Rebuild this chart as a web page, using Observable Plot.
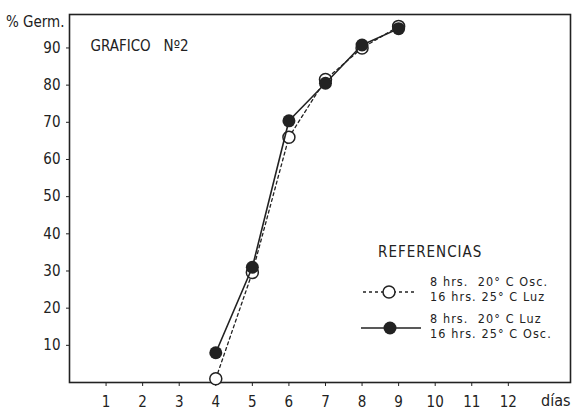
<!DOCTYPE html>
<html>
<head>
<meta charset="utf-8">
<script src="https://cdn.jsdelivr.net/npm/d3@7"></script>
<script src="https://cdn.jsdelivr.net/npm/@observablehq/plot@0.6"></script>
<style>
  html, body { margin: 0; padding: 0; background: #fff; }
  #wrap { position: relative; width: 572px; height: 410px; }
  #legend { position: absolute; left: 350px; top: 230px; pointer-events: none; }
</style>
</head>
<body>
<div id="wrap">
  <div id="chart"></div>
  <svg id="legend" width="222" height="130" font-family="DejaVu Sans Condensed" fill="#222">
    <text x="28" y="27" font-size="15" letter-spacing="1">REFERENCIAS</text>
    <line x1="13" x2="67" y1="62" y2="62" stroke="#222" stroke-width="1.3" stroke-dasharray="3,3"/>
    <circle cx="39" cy="62" r="6" fill="#fff" stroke="#222" stroke-width="1.5"/>
    <text x="80" y="56" font-size="12.5" letter-spacing="1.1" xml:space="preserve">8 hrs.  20° C Osc.</text>
    <text x="80" y="71" font-size="12.5" letter-spacing="1.1">16 hrs. 25° C Luz</text>
    <line x1="11" x2="71" y1="98" y2="98" stroke="#222" stroke-width="1.6"/>
    <circle cx="40" cy="98" r="6.5" fill="#222"/>
    <text x="80" y="93" font-size="12.5" letter-spacing="1.1" xml:space="preserve">8 hrs.  20° C Luz</text>
    <text x="80" y="108" font-size="12.5" letter-spacing="1.1">16 hrs. 25° C Osc.</text>
  </svg>
</div>
<script>
const days = [4, 5, 6, 7, 8, 9];
const oscValues = [1, 29.6, 66, 81.5, 90, 95.8];   // 8 hrs 20°C Osc. / 16 hrs 25°C Luz (open, dashed)
const luzValues = [8, 31, 70.4, 80.5, 90.8, 95.2]; // 8 hrs 20°C Luz / 16 hrs 25°C Osc. (filled, solid)
const xTicks = [1, 2, 3, 4, 5, 6, 7, 8, 9, 10, 11, 12];
const yTicks = [10, 20, 30, 40, 50, 60, 70, 80, 90];

const osc = days.map((d, i) => ({day: d, value: oscValues[i]}));
const luz = days.map((d, i) => ({day: d, value: luzValues[i]}));

const chart = Plot.plot({
  width: 572,
  height: 410,
  marginLeft: 69,
  marginRight: 2,
  marginTop: 14,
  marginBottom: 28,
  style: {fontFamily: "DejaVu Sans Condensed", fontSize: "15px", color: "#222", background: "#fff"},
  x: {domain: [0, 13.7]},
  y: {domain: [0, 99]},
  marks: [
    Plot.frame({stroke: "#222", strokeWidth: 1.6}),
    Plot.axisX({ticks: xTicks, tickSize: 4, tickPadding: 10, label: null, stroke: "#222"}),
    Plot.axisY({ticks: yTicks, tickSize: 3, tickPadding: 6, label: null, stroke: "#222"}),
    Plot.text(["% Germ."], {frameAnchor: "top-left", dx: -5, dy: 12, textAnchor: "end", lineAnchor: "bottom", fontSize: 15, fill: "#222"}),
    Plot.text(["días"], {frameAnchor: "bottom-right", dx: 0, dy: 23, textAnchor: "end", lineAnchor: "bottom", fontSize: 16, letterSpacing: 1.5, fill: "#222"}),
    Plot.text(["GRAFICO   Nº2"], {frameAnchor: "top-left", dx: 21, dy: 36, textAnchor: "start", lineAnchor: "bottom", fontSize: 15, fill: "#222"}),
    Plot.line(osc, {x: "day", y: "value", stroke: "#222", strokeWidth: 1.3, strokeDasharray: "3,3"}),
    Plot.dot(osc, {x: "day", y: "value", r: 6, fill: "#fff", stroke: "#222", strokeWidth: 1.5}),
    Plot.line(luz, {x: "day", y: "value", stroke: "#222", strokeWidth: 1.6}),
    Plot.dot(luz, {x: "day", y: "value", r: 6.5, fill: "#222"})
  ]
});
document.getElementById("chart").appendChild(chart);
</script>
</body>
</html>
